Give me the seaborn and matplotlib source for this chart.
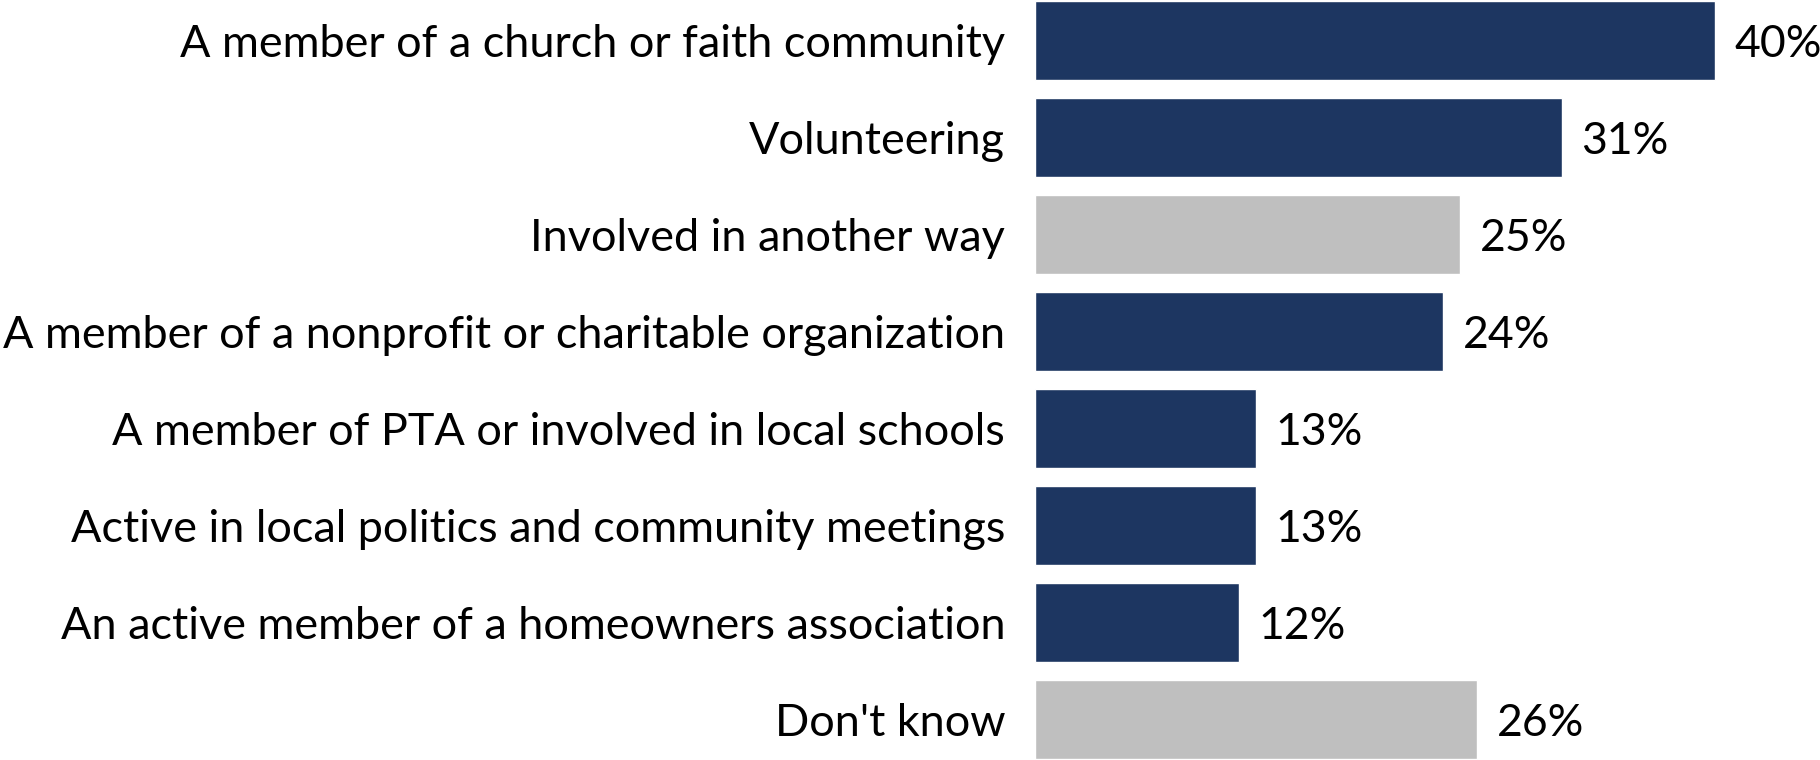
import matplotlib
matplotlib.use("Agg")
import matplotlib.pyplot as plt
import seaborn as sns
import pandas as pd

categories = [
    "A member of a church or faith community",
    "Volunteering",
    "Involved in another way",
    "A member of a nonprofit or charitable organization",
    "A member of PTA or involved in local schools",
    "Active in local politics and community meetings",
    "An active member of a homeowners association",
    "Don't know",
]
values = [40, 31, 25, 24, 13, 13, 12, 26]
groups = ["main", "main", "other", "main", "main", "main", "main", "other"]

palette = {"main": "#1D3661", "other": "#BFBFBF"}

sns.set_theme(style="white")
plt.rcParams["font.family"] = ["Lato", "DejaVu Sans"]

df = pd.DataFrame({"category": categories, "value": values, "group": groups})

fig = plt.figure(figsize=(18.2, 7.6), dpi=100)
ax = fig.add_axes([1035 / 1820, 0.0, 785 / 1820, 1.0])

sns.barplot(data=df, x="value", y="category", hue="group", palette=palette,
            dodge=False, width=0.82, legend=False, ax=ax, saturation=1)

for container in ax.containers:
    anns = ax.bar_label(container, labels=[f"{v:.0f}%" for v in container.datavalues],
                        padding=14, fontsize=32, color="black")
    for ann in anns:
        ann.xyann = (14, -3)

ax.set_xlim(0, 785 / 17)
ax.set_ylim(7.42, -0.42)
ax.set_xlabel("")
ax.set_ylabel("")
ax.set_xticks([])
ax.tick_params(axis="y", length=0, pad=21.5, labelsize=32.4, labelcolor="black")
sns.despine(ax=ax, left=True, bottom=True)

fig.savefig("out.png", dpi=100)
